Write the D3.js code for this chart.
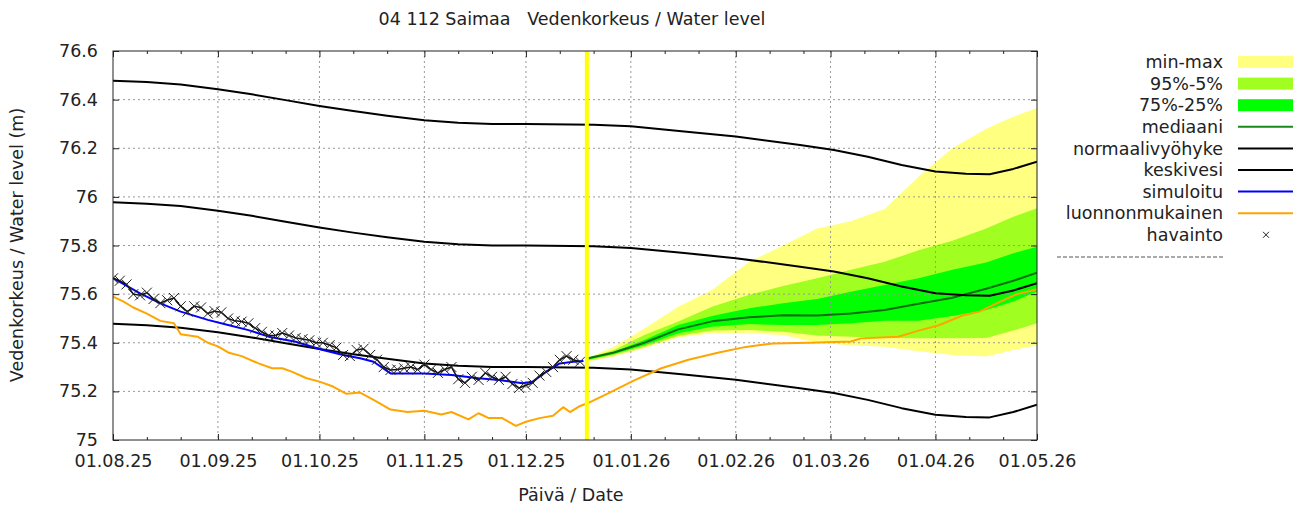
<!DOCTYPE html>
<html>
<head>
<meta charset="utf-8">
<script src="https://cdn.jsdelivr.net/npm/d3@7"></script>
<style>
  body { margin: 0; background: #fff; }
  text { font-family: "DejaVu Sans", sans-serif; fill: #222; }
</style>
</head>
<body>
<div id="chart"></div>
<script>
// days are counted from 01.08.2025
var startDay = new Date(Date.UTC(2025, 7, 1));
var endDay = new Date(Date.UTC(2026, 4, 1));
var todayDay = 140;

var yTicks = [75, 75.2, 75.4, 75.6, 75.8, 76, 76.2, 76.4, 76.6];

// keskivesi and the normal zone around it
var keskivesi = [[0,75.978],[10,75.972],[20,75.962],[31,75.943],[41,75.922],[51,75.898],[61,75.874],
  [71,75.853],[81,75.834],[92,75.815],[102,75.805],[112,75.800],[122,75.800],[142,75.797],[153,75.790],
  [168,75.770],[184,75.748],[203,75.713],[213,75.693],[223,75.665],[233,75.631],[243,75.604],[252,75.595],
  [259,75.593],[266,75.615],[273,75.645]];
var normaaliYla = [[0,76.478],[10,76.472],[20,76.462],[31,76.443],[41,76.422],[51,76.398],[61,76.374],
  [71,76.353],[81,76.334],[92,76.315],[102,76.305],[112,76.300],[122,76.300],[142,76.297],[153,76.290],
  [168,76.270],[184,76.248],[203,76.213],[213,76.193],[223,76.165],[233,76.131],[243,76.104],[252,76.095],
  [259,76.093],[266,76.115],[273,76.145]];
var normaaliAla = [[0,75.478],[10,75.472],[20,75.462],[31,75.443],[41,75.422],[51,75.398],[61,75.374],
  [71,75.353],[81,75.334],[92,75.315],[102,75.305],[112,75.300],[122,75.300],[142,75.297],[153,75.290],
  [168,75.270],[184,75.248],[203,75.213],[213,75.193],[223,75.165],[233,75.131],[243,75.104],[252,75.095],
  [259,75.093],[266,75.115],[273,75.145]];

var simuloitu = [[0,75.666],[8,75.603],[14,75.562],[20,75.528],[28,75.494],[34,75.473],[40,75.452],
  [46,75.425],[54,75.404],[62,75.370],[68,75.350],[73,75.336],[77,75.322],[82,75.274],[92,75.274],
  [100,75.267],[108,75.254],[114,75.247],[121,75.233],[124,75.240],[128,75.281],[132,75.315],
  [136,75.322],[139,75.325]];

var luonnonmukainen = [[0,75.59],[3,75.57],[6,75.545],[10,75.52],[14,75.49],[18,75.48],[20,75.435],
  [25,75.425],[28,75.40],[31,75.385],[34,75.36],[38,75.345],[43,75.315],[47,75.295],[50,75.295],
  [53,75.28],[57,75.255],[61,75.24],[65,75.22],[69,75.19],[73,75.195],[77,75.165],[82,75.125],
  [87,75.115],[92,75.12],[97,75.105],[100,75.115],[105,75.085],[108,75.11],[111,75.09],[115,75.09],
  [119,75.058],[122,75.075],[126,75.09],[130,75.10],[133,75.135],[135,75.115],[138,75.14],[140,75.15],
  [146,75.19],[154,75.245],[162,75.295],[170,75.33],[179,75.36],[187,75.383],[195,75.397],[206,75.40],
  [218,75.405],[221,75.418],[232,75.425],[238,75.45],[244,75.472],[251,75.512],[256,75.528],
  [262,75.568],[267,75.60],[273,75.62]];

// observations every second day from day 0
var havainto = [75.665,75.655,75.640,75.600,75.595,75.606,75.580,75.563,75.575,75.584,75.550,75.528,
  75.550,75.545,75.520,75.530,75.525,75.500,75.490,75.487,75.480,75.460,75.445,75.430,75.430,75.440,
  75.430,75.420,75.415,75.410,75.400,75.400,75.390,75.380,75.350,75.345,75.370,75.375,75.350,75.330,
  75.300,75.288,75.290,75.295,75.300,75.290,75.310,75.290,75.276,75.290,75.300,75.250,75.235,75.260,
  75.247,75.276,75.260,75.247,75.260,75.230,75.214,75.225,75.235,75.265,75.280,75.300,75.330,75.345,
  75.330,75.322];

// forecast distribution
var ennusteDays = [140,148,157,167,177,188,198,208,218,228,238,248,258,266,273];
var maxVals  = [75.336,75.384,75.459,75.548,75.617,75.733,75.800,75.870,75.900,75.950,76.083,76.200,76.280,76.330,76.366];
var p95Vals  = [75.336,75.370,75.432,75.487,75.548,75.597,75.633,75.665,75.700,75.733,75.780,75.820,75.870,75.918,75.953];
var p75Vals  = [75.336,75.363,75.411,75.473,75.510,75.542,75.562,75.580,75.610,75.638,75.665,75.700,75.730,75.768,75.795];
var medVals  = [75.335,75.360,75.400,75.455,75.488,75.505,75.513,75.512,75.520,75.535,75.560,75.585,75.622,75.655,75.688];
var p25Vals  = [75.329,75.354,75.390,75.439,75.466,75.477,75.473,75.473,75.480,75.490,75.490,75.510,75.535,75.570,75.610];
var p5Vals   = [75.326,75.350,75.384,75.428,75.450,75.452,75.445,75.430,75.425,75.420,75.418,75.418,75.420,75.450,75.480];
var minVals  = [75.322,75.343,75.377,75.422,75.439,75.439,75.432,75.400,75.390,75.384,75.365,75.350,75.343,75.370,75.390];

var legendItems = [
  {label: 'min-max', type: 'band', color: '#ffff80'},
  {label: '95%-5%', type: 'band', color: '#a0ff20'},
  {label: '75%-25%', type: 'band', color: '#00ff00'},
  {label: 'mediaani', type: 'line', color: '#1a8a1a'},
  {label: 'normaalivyöhyke', type: 'line', color: '#000'},
  {label: 'keskivesi', type: 'line', color: '#000'},
  {label: 'simuloitu', type: 'line', color: '#0000ff'},
  {label: 'luonnonmukainen', type: 'line', color: '#ffa500'},
  {label: 'havainto', type: 'point', color: '#222'}
];

var day = function(d) { return d3.utcDay.offset(startDay, d); };

var pLeft = 113, pRight = 1037, pTop = 51, pBottom = 440;
var fontSize = '17.5px';
var x = d3.scaleUtc().domain([startDay, endDay]).range([pLeft, pRight]);
var y = d3.scaleLinear().domain([75, 76.6]).range([pBottom, pTop]);

var svg = d3.select('#chart').append('svg')
  .attr('width', 1307)
  .attr('height', 508);

var months = d3.utcMonth.range(startDay, d3.utcDay.offset(endDay, 1));
var minor = [];
months.forEach(function(m) {
  [10, 20].forEach(function(k) {
    var d = d3.utcDay.offset(m, k);
    if (d < endDay) minor.push(d);
  });
});

svg.append('clipPath').attr('id', 'plot')
  .append('rect').attr('x', pLeft).attr('y', pTop).attr('width', pRight - pLeft).attr('height', pBottom - pTop);

var plot = svg.append('g').attr('clip-path', 'url(#plot)');

// forecast bands
var bands = [
  {hi: maxVals, lo: minVals, c: '#ffff80'},
  {hi: p95Vals, lo: p5Vals, c: '#a0ff20'},
  {hi: p75Vals, lo: p25Vals, c: '#00ff00'}
];
bands.forEach(function(b) {
  var area = d3.area()
    .x(function(d, i) { return x(day(ennusteDays[i])); })
    .y0(function(d, i) { return y(b.lo[i]); })
    .y1(function(d, i) { return y(b.hi[i]); });
  plot.append('path').datum(ennusteDays).attr('d', area).attr('fill', b.c);
});

// grid
plot.selectAll('.vgrid').data(months.slice(1, -1)).enter().append('line')
  .attr('x1', function(d) { return x(d); }).attr('x2', function(d) { return x(d); })
  .attr('y1', pTop).attr('y2', pBottom)
  .attr('stroke', '#999').attr('stroke-width', 1).attr('stroke-dasharray', '2,3');
plot.selectAll('.hgrid').data(yTicks.slice(1, -1)).enter().append('line')
  .attr('x1', pLeft).attr('x2', pRight)
  .attr('y1', function(d) { return y(d); }).attr('y2', function(d) { return y(d); })
  .attr('stroke', '#999').attr('stroke-width', 1).attr('stroke-dasharray', '2,3');

var line = d3.line()
  .x(function(d) { return x(day(d[0])); })
  .y(function(d) { return y(d[1]); });

var drawLine = function(data, color, w) {
  plot.append('path').datum(data).attr('d', line)
    .attr('fill', 'none').attr('stroke', color).attr('stroke-width', w)
    .attr('stroke-linejoin', 'round');
};

drawLine(ennusteDays.map(function(d, i) { return [d, medVals[i]]; }), '#0f6e0f', 2);
drawLine(normaaliYla, '#000', 2);
drawLine(normaaliAla, '#000', 2);
drawLine(keskivesi, '#000', 2);
drawLine(simuloitu, '#0000ff', 2);
drawLine(luonnonmukainen, '#ffa500', 2);

// observations
var obs = havainto.map(function(v, i) { return [i * 2, v]; });
drawLine(obs, '#111', 1.5);
var s = 5;
plot.selectAll('.obs').data(obs).enter().append('path')
  .attr('d', function(d) {
    var cx = x(day(d[0])), cy = y(d[1]);
    return 'M' + (cx - s) + ',' + (cy - s) + 'L' + (cx + s) + ',' + (cy + s) +
      'M' + (cx - s) + ',' + (cy + s) + 'L' + (cx + s) + ',' + (cy - s);
  })
  .attr('stroke', '#222').attr('stroke-width', 1).attr('fill', 'none');

// today line
plot.append('line')
  .attr('x1', x(day(todayDay))).attr('x2', x(day(todayDay)))
  .attr('y1', pTop).attr('y2', pBottom)
  .attr('stroke', '#ffff00').attr('stroke-width', 4);

// axes
var fmt = d3.utcFormat('%d.%m.%y');
var styleAxis = function(g) {
  g.select('.domain').remove();
  g.selectAll('.tick line').attr('stroke', '#222');
  g.selectAll('.tick text').style('font-size', fontSize).attr('fill', '#222');
};

svg.append('g').attr('transform', 'translate(0,' + pBottom + ')')
  .call(d3.axisBottom(x).tickValues(months).tickFormat(fmt).tickSize(-6).tickPadding(15))
  .call(styleAxis);
svg.append('g').attr('transform', 'translate(0,' + pBottom + ')')
  .call(d3.axisBottom(x).tickValues(minor).tickFormat('').tickSize(-3))
  .call(styleAxis);
svg.append('g').attr('transform', 'translate(0,' + pTop + ')')
  .call(d3.axisTop(x).tickValues(months).tickFormat('').tickSize(-6))
  .call(styleAxis);
svg.append('g').attr('transform', 'translate(0,' + pTop + ')')
  .call(d3.axisTop(x).tickValues(minor).tickFormat('').tickSize(-3))
  .call(styleAxis);
svg.append('g').attr('transform', 'translate(' + pLeft + ',0)')
  .call(d3.axisLeft(y).tickValues(yTicks).tickFormat(function(d) { return String(+d.toFixed(1)); })
    .tickSize(-6).tickPadding(15))
  .call(styleAxis);
svg.append('g').attr('transform', 'translate(' + pRight + ',0)')
  .call(d3.axisRight(y).tickValues(yTicks).tickFormat('').tickSize(-6))
  .call(styleAxis);

svg.append('rect')
  .attr('x', pLeft).attr('y', pTop).attr('width', pRight - pLeft).attr('height', pBottom - pTop)
  .attr('fill', 'none').attr('stroke', '#222').attr('stroke-width', 1);

// titles
svg.append('text').attr('x', 572).attr('y', 25).attr('text-anchor', 'middle')
  .style('font-size', fontSize).style('white-space', 'pre')
  .text('04 112 Saimaa   Vedenkorkeus / Water level');
svg.append('text').attr('x', 571).attr('y', 501).attr('text-anchor', 'middle')
  .style('font-size', fontSize).text('Päivä / Date');
svg.append('text').attr('transform', 'translate(23,245) rotate(-90)').attr('text-anchor', 'middle')
  .style('font-size', fontSize).text('Vedenkorkeus / Water level (m)');

// legend
var leg = svg.append('g');
legendItems.forEach(function(it, i) {
  var ly = 62 + i * 21.6;
  leg.append('text').attr('x', 1223).attr('y', ly).attr('dy', '0.35em')
    .attr('text-anchor', 'end').style('font-size', fontSize).text(it.label);
  if (it.type === 'band') {
    leg.append('rect').attr('x', 1238).attr('y', ly - 6).attr('width', 55).attr('height', 12)
      .attr('fill', it.color);
  } else if (it.type === 'line') {
    leg.append('line').attr('x1', 1238).attr('x2', 1293).attr('y1', ly).attr('y2', ly)
      .attr('stroke', it.color).attr('stroke-width', 2);
  } else {
    leg.append('path')
      .attr('d', 'M1263,' + (ly - 3) + 'L1269,' + (ly + 3) + 'M1263,' + (ly + 3) + 'L1269,' + (ly - 3))
      .attr('stroke', it.color).attr('stroke-width', 1);
  }
});
leg.append('line').attr('x1', 1057).attr('x2', 1225).attr('y1', 257).attr('y2', 257)
  .attr('stroke', '#555').attr('stroke-width', 1).attr('stroke-dasharray', '4,2');
</script>
</body>
</html>
